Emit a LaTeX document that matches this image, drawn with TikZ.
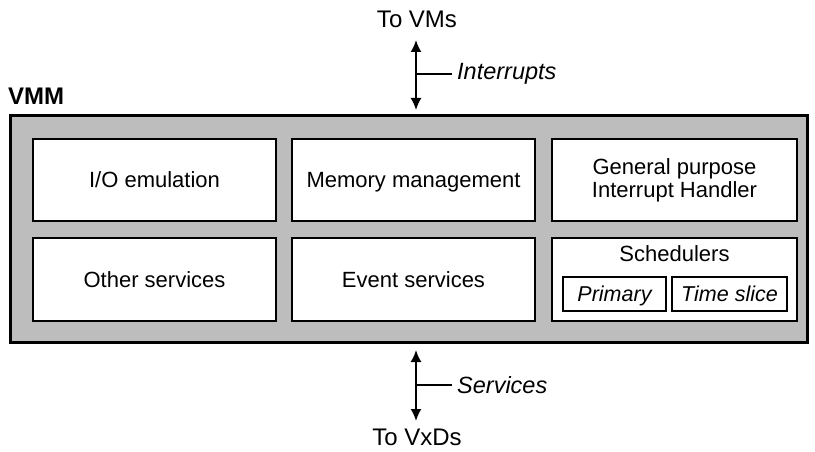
\documentclass[tikz,border=0pt]{standalone}
\usepackage{fontspec}
\setmainfont{Liberation Sans}
\usetikzlibrary{arrows.meta,calc}
\begin{document}
\begin{tikzpicture}[x=1pt,y=-1pt,
  txt/.style={font=\fontsize{22}{23}\selectfont, inner sep=0pt},
  outer/.style={font=\fontsize{24}{26}\selectfont, inner sep=0pt},
  itxt/.style={font=\fontsize{23.5}{26}\selectfont\itshape, inner sep=0pt},
  unit/.style={draw=black, line width=1.8pt, fill=white, inner sep=0pt,
    minimum width=243pt, minimum height=82pt, font=\fontsize{22}{23}\selectfont, align=center,
    text height=16pt, text depth=1pt},
  subunit/.style={draw=black, line width=1.3pt, fill=white, inner sep=0pt,
    minimum height=34pt, font=\fontsize{21.5}{23}\selectfont\itshape,
    text height=16pt, text depth=1pt},
  link/.style={line width=1.8pt, {Latex[length=12pt,width=11pt]}-{Latex[length=12pt,width=11pt]}},
  tick/.style={line width=1.6pt}]
\useasboundingbox (0,0) rectangle (815,452);

% VMM enclosure
\node[anchor=west, font=\fontsize{24}{26}\selectfont\bfseries, inner sep=0pt] (vmmlabel) at (8,96) {VMM};
\node[draw, line width=3pt, fill=black!26, minimum width=797pt, minimum height=226pt, inner sep=0pt] (vmm) at (408.5,229) {};

% first row
\node[unit] (io) at (154.5,180) {I/O emulation};
\node[unit] (mem) at (413.5,180) {Memory management};
\node[unit, minimum width=245pt, text height=, text depth=] (gpih) at (674.5,180) {General purpose\\Interrupt Handler};

% second row
\node[unit, minimum height=83pt] (other) at (154.5,279.5) {Other services};
\node[unit, minimum height=83pt] (event) at (413.5,279.5) {Event services};
\node[unit, minimum width=245pt, minimum height=83pt] (schedbox) at (674.5,279.5) {};
\node[txt] (sched) at (674.5,254) {Schedulers};
\node[subunit, minimum width=103pt] (primary) at (614.5,294) {Primary};
\node[subunit, minimum width=115pt] (tslice) at (729.5,294) {Time slice};

% link to the VMs
\node[outer] (vms) at (417,19) {To VMs};
\coordinate (ia) at (416,40);
\coordinate (ib) at (416,110);
\draw[link] (ia) -- (ib);
\coordinate (it) at (417,74);
\node[itxt, anchor=west] (intr) at (457,74) {Interrupts};
\draw[tick] (it) -- ($(intr.west)+(-5,0)$);

% link to the VxDs
\coordinate (sa) at (416,350);
\coordinate (sb) at (416,421);
\draw[link] (sa) -- (sb);
\coordinate (st) at (417,385);
\node[itxt, anchor=west] (serv) at (457,385) {Services};
\draw[tick] (st) -- ($(serv.west)+(-5,0)$);
\node[outer] (vxds) at (417,437) {To VxDs};
\end{tikzpicture}
\end{document}
